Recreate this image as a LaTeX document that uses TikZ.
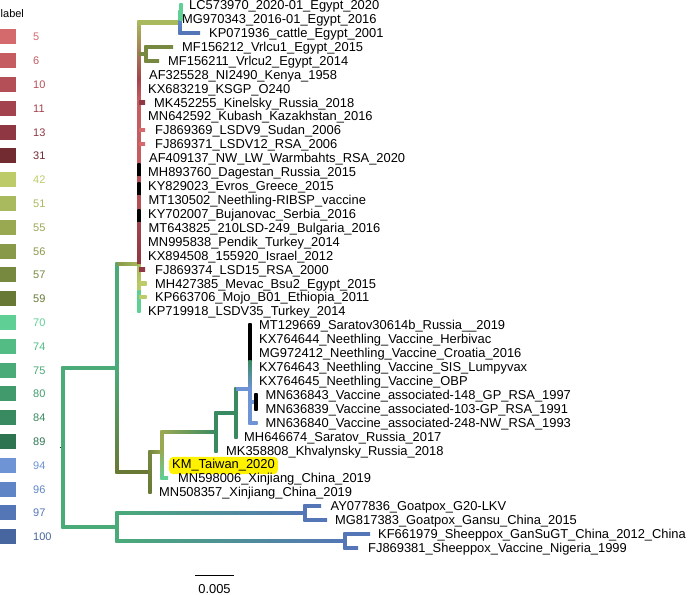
\documentclass[tikz,border=0pt]{standalone}
\usepackage{fontspec}
\setmainfont{Liberation Sans}
\usetikzlibrary{calc}
\definecolor{c5}{HTML}{D46A6C}
\definecolor{c6}{HTML}{C55C61}
\definecolor{c10}{HTML}{B44F57}
\definecolor{c11}{HTML}{A2434D}
\definecolor{c13}{HTML}{8F3742}
\definecolor{c31}{HTML}{722B31}
\definecolor{c42}{HTML}{BDCB69}
\definecolor{c51}{HTML}{A9BA5E}
\definecolor{c55}{HTML}{98A952}
\definecolor{c56}{HTML}{889949}
\definecolor{c57}{HTML}{77893F}
\definecolor{c59}{HTML}{677935}
\definecolor{c70}{HTML}{60CF95}
\definecolor{c74}{HTML}{53BC85}
\definecolor{c75}{HTML}{4AAB78}
\definecolor{c80}{HTML}{419A6C}
\definecolor{c84}{HTML}{398A60}
\definecolor{c89}{HTML}{2F7451}
\definecolor{c94}{HTML}{6E94D6}
\definecolor{c96}{HTML}{6085C6}
\definecolor{c97}{HTML}{5476B6}
\definecolor{c100}{HTML}{47659F}
% horizontal branch (from #1 to #2), vertical branch with square ends, vertical segment
\newcommand{\HB}[4]{\shade[left color=#3,right color=#4] ($(#1)+(0,-1.6)$) rectangle ($(#2)+(0,1.6)$);}
\newcommand{\VB}[4]{\shade[top color=#3,bottom color=#4] ($(#1)+(-1.6,-1.6)$) rectangle ($(#2)+(1.6,1.6)$);}
\newcommand{\VS}[4]{\shade[top color=#3,bottom color=#4] ($(#1)+(-1.6,0)$) rectangle ($(#2)+(1.6,0)$);}
\begin{document}
\begin{tikzpicture}[x=1pt,y=-1pt,
  tip/.style={anchor=base west, inner sep=0pt, font=\fontsize{12.9}{14}\selectfont},
  leg/.style={anchor=base west, inner sep=0pt, font=\fontsize{11}{13}\selectfont}]
\useasboundingbox (0,0) rectangle (689,595);

% ---------- legend ----------
\node[leg] (legtitle) at (0.5,17.3) {label};
\foreach \v/\c [count=\k] in {5/c5,6/c6,10/c10,11/c11,13/c13,31/c31,42/c42,51/c51,55/c55,56/c56,57/c57,59/c59,70/c70,74/c74,75/c75,80/c80,84/c84,89/c89,94/c94,96/c96,97/c97,100/c100}{
  \fill[\c] (0,{36.8+23.8*(\k-1)-7.5}) rectangle (16,{36.8+23.8*(\k-1)+7.5});
  \node[leg, text=\c] (lg\k) at (33,{40.8+23.8*(\k-1)}) {\v};
}

% ---------- tips ----------
\foreach \x/\y [count=\i] in {181/5,181/18.92,200/32.84,173/46.76,159/60.68,139/74.6,139/88.52,145/102.44,139/116.36,145/130.28,145/144.2,139/158.12,139/172.04,139/185.96,139/199.88,139/213.8,139/227.72,139/241.64,139/255.56,145/269.48,146.5/283.4,146.5/297.32,139/311.24,250/325.16,250/339.08,250/353,250/366.92,250/380.84,257/394.76,257/408.68,257.5/422.6,236/436.52,216/450.44,162/464.36,168/478.28,150/492.2,321/506.12,327/520.04,370/533.96,358/547.88}
  {\coordinate (t\i) at (\x,\y);}

% ---------- internal nodes ----------
\coordinate (stub) at (59.5,447.5);
\coordinate (n0) at (63,447.5);
\coordinate (nA) at (117,368);
\coordinate (nB) at (117,527);
\coordinate (nC) at (139,264);
\coordinate (nK) at (180,22.4);
\coordinate (nK2) at (181,12);
\coordinate (nM) at (146,53.7);
\coordinate (nD) at (150,471.6);
\coordinate (nE) at (162,451.7);
\coordinate (nJ) at (162,471.3);
\coordinate (nF) at (216,431.7);
\coordinate (nG) at (236,413);
\coordinate (nH) at (250,389);
\coordinate (nN) at (250,360);
\coordinate (nI) at (256,401.7);
\coordinate (nP) at (305,513.1);
\coordinate (nQ) at (345,540.9);
% segment marks on the LSDV backbone
\coordinate (s0) at (139,22.4);
\coordinate (s1) at (139,78);
\coordinate (s2) at (139,100);
\coordinate (s3) at (139,163);
\coordinate (s4) at (139,176);
\coordinate (s5) at (139,182);
\coordinate (s6) at (139,195);
\coordinate (s7) at (139,209);
\coordinate (s8) at (139,222);
\coordinate (s10) at (139,292);

% ---------- root ----------
\draw[line width=1.3pt, black!85] (stub) -- (n0);
\VB{n0 |- nA}{n0 |- nB}{c75}{c75}
\HB{n0 |- nA}{nA}{c75}{c75}
\HB{n0 |- nB}{nB}{c75}{c75}

% ---------- LSDV + Asian clade ----------
\VB{nA |- nC}{nA}{c75}{c75}
\VB{nA}{nA |- nD}{c75}{c59}
\HB{nA |- nC}{nC}{c56}{c51}
\HB{nA |- nD}{nD}{c59}{c59}

% LSDV backbone
\VB{s0}{s1}{c51}{c11}
\VS{s1}{s2}{c11}{c6}
\VS{s2}{s3}{c6}{c6}
\VS{s3}{s4}{black}{black}
\VS{s4}{s5}{c10}{c10}
\VS{s5}{s6}{black}{black}
\VS{s6}{s7}{c10}{c10}
\VS{s7}{s8}{black}{black}
\VS{s8}{nC}{c11}{c13}
\VS{nC}{s10}{c51}{c42}
\VB{s10}{nC |- t23}{c70}{c70}

% Egypt subclade
\HB{nC |- nK}{nK}{c51}{c51}
\VB{nK |- nK2}{nK}{c70}{c70}
\VB{nK}{nK |- t3}{c96}{c97}
\HB{nK |- t3}{t3}{c97}{c97}
\VB{nK2 |- t1}{nK2 |- t2}{c70}{c70}
% Vrlcu subclade
\HB{nC |- nM}{nM}{c57}{c57}
\VB{nM |- t4}{nM |- t5}{c57}{c57}
\HB{nM |- t4}{t4}{c57}{c57}
\HB{nM |- t5}{t5}{c57}{c57}
% short tips on backbone
\HB{nC |- t8}{t8}{c13}{c13}
\HB{nC |- t10}{t10}{c5}{c5}
\HB{nC |- t11}{t11}{c5}{c5}
\HB{nC |- t20}{t20}{c13}{c13}
\HB{nC |- t21}{t21}{c42}{c42}
\HB{nC |- t22}{t22}{c42}{c42}

% Asian / vaccine clade
\VB{nD |- nE}{nD |- t36}{c57}{c59}
\HB{nD |- nE}{nE}{c57}{c55}
\VB{nE |- nF}{nE}{c55}{c55}
\VB{nE}{nE |- t35}{c55}{c70}
\HB{nJ |- t35}{t35}{c70}{c70}
\HB{nE |- nF}{nF}{c55}{c84}
\VB{nF |- nG}{nF |- t33}{c84}{c84}
\HB{nF |- nG}{nG}{c84}{c84}
\VB{nG |- nH}{nG |- t32}{c84}{c84}
\HB{nG |- nH}{nH}{c94}{c94}
\VB{t24}{nN}{black}{black}
\VS{nN}{nH}{c84}{c94}
\VB{nH}{nH |- t31}{c94}{c94}
\HB{nH |- nI}{nI}{c94}{c94}
\VB{nI |- t29}{nI |- t30}{black}{black}
\HB{nH |- t31}{t31}{c94}{c94}

% Capripox outgroup
\VB{nB |- nP}{nB |- nQ}{c75}{c75}
\HB{nB |- nP}{nP}{c75}{c97}
\HB{nB |- nQ}{nQ}{c75}{c97}
\VB{nP |- t37}{nP |- t38}{c97}{c97}
\HB{nP |- t37}{t37}{c97}{c97}
\HB{nP |- t38}{t38}{c97}{c97}
\VB{nQ |- t39}{nQ |- t40}{c97}{c97}
\HB{nQ |- t39}{t39}{c97}{c97}
\HB{nQ |- t40}{t40}{c97}{c97}

% ---------- tip labels ----------
\node[tip] (l1) at (189,9.6) {LC573970\_2020-01\_Egypt\_2020};
\node[tip] (l2) at (182,23.52) {MG970343\_2016-01\_Egypt\_2016};
\node[tip] (l3) at (209,37.44) {KP071936\_cattle\_Egypt\_2001};
\node[tip] (l4) at (182,51.36) {MF156212\_Vrlcu1\_Egypt\_2015};
\node[tip] (l5) at (168,65.28) {MF156211\_Vrlcu2\_Egypt\_2014};
\node[tip] (l6) at (149,79.2) {AF325528\_NI2490\_Kenya\_1958};
\node[tip] (l7) at (148,93.12) {KX683219\_KSGP\_O240};
\node[tip] (l8) at (154,107.04) {MK452255\_Kinelsky\_Russia\_2018};
\node[tip] (l9) at (148,120.96) {MN642592\_Kubash\_Kazakhstan\_2016};
\node[tip] (l10) at (155,134.88) {FJ869369\_LSDV9\_Sudan\_2006};
\node[tip] (l11) at (155,148.8) {FJ869371\_LSDV12\_RSA\_2006};
\node[tip] (l12) at (149,162.72) {AF409137\_NW\_LW\_Warmbahts\_RSA\_2020};
\node[tip] (l13) at (148,176.64) {MH893760\_Dagestan\_Russia\_2015};
\node[tip] (l14) at (148,190.56) {KY829023\_Evros\_Greece\_2015};
\node[tip] (l15) at (148.5,204.48) {MT130502\_Neethling-RIBSP\_vaccine};
\node[tip] (l16) at (148,218.4) {KY702007\_Bujanovac\_Serbia\_2016};
\node[tip] (l17) at (148.5,232.32) {MT643825\_210LSD-249\_Bulgaria\_2016};
\node[tip] (l18) at (148,246.24) {MN995838\_Pendik\_Turkey\_2014};
\node[tip] (l19) at (148,260.16) {KX894508\_155920\_Israel\_2012};
\node[tip] (l20) at (155,274.08) {FJ869374\_LSD15\_RSA\_2000};
\node[tip] (l21) at (155,288.0) {MH427385\_Mevac\_Bsu2\_Egypt\_2015};
\node[tip] (l22) at (155,301.92) {KP663706\_Mojo\_B01\_Ethiopia\_2011};
\node[tip] (l23) at (148,315.84) {KP719918\_LSDV35\_Turkey\_2014};
\node[tip] (l24) at (259,329.76) {MT129669\_Saratov30614b\_Russia\_\_2019};
\node[tip] (l25) at (259,343.68) {KX764644\_Neethling\_Vaccine\_Herbivac};
\node[tip] (l26) at (259,357.6) {MG972412\_Neethling\_Vaccine\_Croatia\_2016};
\node[tip] (l27) at (259,371.52) {KX764643\_Neethling\_Vaccine\_SIS\_Lumpyvax};
\node[tip] (l28) at (259,385.44) {KX764645\_Neethling\_Vaccine\_OBP};
\node[tip] (l29) at (265.5,399.36) {MN636843\_Vaccine\_associated-148\_GP\_RSA\_1997};
\node[tip] (l30) at (265.5,413.28) {MN636839\_Vaccine\_associated-103-GP\_RSA\_1991};
\node[tip] (l31) at (265.5,427.2) {MN636840\_Vaccine\_associated-248-NW\_RSA\_1993};
\node[tip] (l32) at (244,441.12) {MH646674\_Saratov\_Russia\_2017};
\node[tip] (l33) at (226,455.04) {MK358808\_Khvalynsky\_Russia\_2018};
\node[tip, fill=yellow, rounded corners=4pt, inner xsep=3pt, inner ysep=2.7pt] (l34) at (169,468.96) {KM\_Taiwan\_2020};
\node[tip] (l35) at (178,482.88) {MN598006\_Xinjiang\_China\_2019};
\node[tip] (l36) at (159,496.8) {MN508357\_Xinjiang\_China\_2019};
\node[tip] (l37) at (330.5,510.72) {AY077836\_Goatpox\_G20-LKV};
\node[tip] (l38) at (335,524.64) {MG817383\_Goatpox\_Gansu\_China\_2015};
\node[tip] (l39) at (378,538.56) {KF661979\_Sheeppox\_GanSuGT\_China\_2012\_China};
\node[tip] (l40) at (368,552.48) {FJ869381\_Sheeppox\_Vaccine\_Nigeria\_1999};

% ---------- scale bar ----------
\coordinate (sbL) at (195,575.5);
\coordinate (sbR) at (234,575.5);
\draw[line width=1.4pt] (sbL) -- (sbR);
\node[tip, anchor=base] (sbtext) at (214.5,593) {0.005};
\end{tikzpicture}
\end{document}
